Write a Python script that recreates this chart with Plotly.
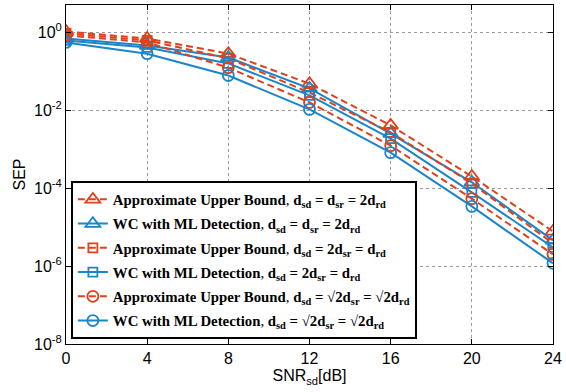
import plotly.graph_objects as go

snr = [0, 4, 8, 12, 16, 20, 24]

# log10 SEP values
ub_tri = [0.018, -0.16, -0.55, -1.32, -2.39, -3.70, -5.11]
wc_tri = [-0.16, -0.34, -0.65, -1.44, -2.60, -3.85, -5.34]
ub_sq = [-0.03, -0.21, -0.67, -1.55, -2.57, -3.88, -5.42]
wc_sq = [-0.21, -0.39, -0.80, -1.62, -2.73, -4.11, -5.52]
ub_ci = [-0.08, -0.26, -0.91, -1.80, -2.91, -4.27, -5.70]
wc_ci = [-0.26, -0.55, -1.11, -1.98, -3.09, -4.47, -5.93]

names = [
    "<b>Approximate Upper Bound</b>, <b>d<sub>sd</sub> = d<sub>sr</sub> = 2d<sub>rd</sub></b>",
    "<b>WC with ML Detection</b>, <b>d<sub>sd</sub> = d<sub>sr</sub> = 2d<sub>rd</sub></b>",
    "<b>Approximate Upper Bound</b>, <b>d<sub>sd</sub> = 2d<sub>sr</sub> = d<sub>rd</sub></b>",
    "<b>WC with ML Detection</b>, <b>d<sub>sd</sub> = 2d<sub>sr</sub> = d<sub>rd</sub></b>",
    "<b>Approximate Upper Bound</b>, <b>d<sub>sd</sub> = √2d<sub>sr</sub> = √2d<sub>rd</sub></b>",
    "<b>WC with ML Detection</b>, <b>d<sub>sd</sub> = √2d<sub>sr</sub> = √2d<sub>rd</sub></b>",
]

RED = "#E0401A"
BLUE = "#1A85C8"

series = [ub_tri, wc_tri, ub_sq, wc_sq, ub_ci, wc_ci]
symbols = ["triangle-up-open", "triangle-up-open", "square-open", "square-open", "circle-open", "circle-open"]
sizes = [13, 13, 9, 9, 11, 11]
colors = [RED, BLUE, RED, BLUE, RED, BLUE]
dashes = ["7px,4px", "solid", "7px,4px", "solid", "7px,4px", "solid"]

fig = go.Figure()
for i, (vals, nm, sym, sz, c, d) in enumerate(zip(series, names, symbols, sizes, colors, dashes)):
    fig.add_trace(go.Scatter(
        x=snr, y=[10 ** v for v in vals], name=nm, mode="lines+markers",
        legendgroup=f"g{i}",
        line=dict(color=c, width=2, dash=d),
        marker=dict(symbol=sym, size=sz, color=c, line=dict(color=c, width=1.8)),
    ))

ytickvals = [1e-8, 1e-6, 1e-4, 1e-2, 1]
yticktext = ["10<sup>-8</sup>", "10<sup>-6</sup>", "10<sup>-4</sup>", "10<sup>-2</sup>", "10<sup>0</sup>"]

fig.update_layout(
    width=566, height=392,
    margin=dict(l=66, r=9, t=4, b=48),
    paper_bgcolor="white", plot_bgcolor="white",
    font=dict(family="Liberation Sans, Arial", size=16, color="black"),
    showlegend=True,
    legend=dict(
        x=0.01, y=0.014, xanchor="left", yanchor="bottom",
        bgcolor="white", bordercolor="black", borderwidth=2,
        font=dict(family="Liberation Serif, serif", size=14.8, color="black"),
        tracegroupgap=2, itemwidth=30,
    ),
)
fig.update_xaxes(
    range=[0, 24], tickvals=snr, ticks="inside", ticklen=5, tickcolor="black",
    showline=True, linecolor="black", linewidth=1, mirror="ticks",
    showgrid=True, gridcolor="#9a9a9a", griddash="dot", gridwidth=1,
    zeroline=False,
    title=dict(text="SNR<sub>sd</sub>[dB]", font=dict(size=16), standoff=2),
)
fig.update_yaxes(
    type="log", range=[-8, 0.699], tickvals=ytickvals, ticktext=yticktext,
    ticks="inside", ticklen=5, tickcolor="black",
    showline=True, linecolor="black", linewidth=1, mirror="ticks",
    showgrid=True, gridcolor="#9a9a9a", griddash="dot", gridwidth=1,
    zeroline=False,
    title=dict(text="SEP", font=dict(size=16), standoff=4),
)

fig.write_html("out.html")
